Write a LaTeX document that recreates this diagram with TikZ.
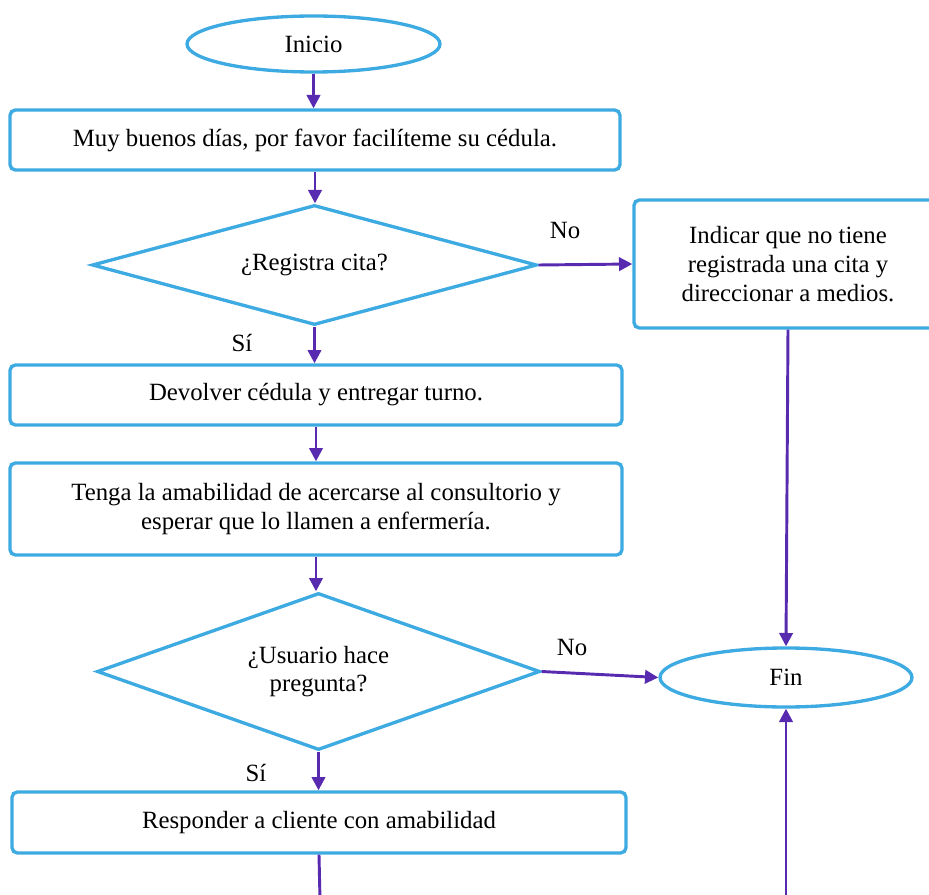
\documentclass[tikz,border=0pt]{standalone}
\usepackage{fontspec}
\setmainfont{Liberation Serif}
\usetikzlibrary{shapes.geometric,arrows.meta}
\definecolor{edgeblue}{RGB}{62,170,226}
\definecolor{flowpurple}{RGB}{88,42,176}
\begin{document}
\begin{tikzpicture}[x=0.75pt,y=-0.75pt,
  font=\fontsize{18.6}{21.5}\selectfont,
  stepbox/.style={draw=edgeblue,line width=2.5pt,rounded corners=4pt,rectangle,inner sep=0pt,align=center,fill=white},
  decision/.style={draw=edgeblue,line width=2.5pt,diamond,inner sep=0pt,align=center},
  terminal/.style={draw=edgeblue,line width=2.5pt,ellipse,inner sep=0pt},
  flow/.style={draw=flowpurple,line width=2.2pt,-{Triangle[length=10pt,width=10pt]}},
  plainflow/.style={draw=flowpurple,line width=2.2pt},
  answer/.style={inner sep=0pt}]
\useasboundingbox (0,0) rectangle (929,895);

% terminals
\node[terminal,minimum width=189.75pt,minimum height=42pt] (inicio) at (313.5,44) {Inicio};
\node[terminal,minimum width=189pt,minimum height=44.25pt] (fin) at (786,677.5) {Fin};

% process boxes
\node[stepbox,minimum width=457.5pt,minimum height=45pt] (cedula) at (315,140)
  {Muy buenos días, por favor facilíteme su cédula.};
\node[stepbox,minimum width=459pt,minimum height=45pt] (turno) at (316,395)
  {Devolver cédula y entregar turno.};
\node[stepbox,minimum width=459pt,minimum height=69pt] (consultorio) at (316,509)
  {Tenga la amabilidad de acercarse al consultorio y\\esperar que lo llamen a enfermería.};
\node[stepbox,minimum width=460.5pt,minimum height=45.75pt] (responder) at (319,822.5)
  {Responder a cliente con amabilidad};
\node[stepbox,minimum width=231pt,minimum height=96pt] (sincita) at (788,264)
  {Indicar que no tiene\\registrada una cita y\\direccionar a medios.};

% decisions
\node[decision,minimum width=333.75pt,minimum height=90pt,aspect=3.7] (registra) at (314.5,265)
  {¿Registra cita?};
\node[decision,minimum width=332.25pt,minimum height=117.75pt,aspect=2.8] (pregunta) at (318.5,671.5)
  {¿Usuario hace\\pregunta?};

% free ends at the lower edge
\coordinate (salida) at (320,900);
\coordinate (retorno) at (786,900);

% connectors
\draw[flow] (inicio.south) -- (inicio.south |- cedula.north);
\draw[flow] (cedula.south) -- (cedula.south |- registra.north);
\draw[flow] (registra.south) -- (registra.south |- turno.north);
\draw[flow] (registra.east) -- (sincita.west);
\draw[flow] (turno.south) -- (turno.south |- consultorio.north);
\draw[flow] (consultorio.south) -- (consultorio.south |- pregunta.north);
\draw[flow] (sincita.south) -- (fin.north);
\draw[flow] (pregunta.east) -- (fin.west);
\draw[flow] (pregunta.south) -- (pregunta.south |- responder.north);
\draw[plainflow] (responder.south) -- (salida);
\draw[flow] (retorno) -- (fin.south);

% branch labels
\node[answer] (no1) at (565,231) {No};
\node[answer] (si1) at (242,343) {Sí};
\node[answer] (no2) at (572,647) {No};
\node[answer] (si2) at (256,773) {Sí};
\end{tikzpicture}
\end{document}
